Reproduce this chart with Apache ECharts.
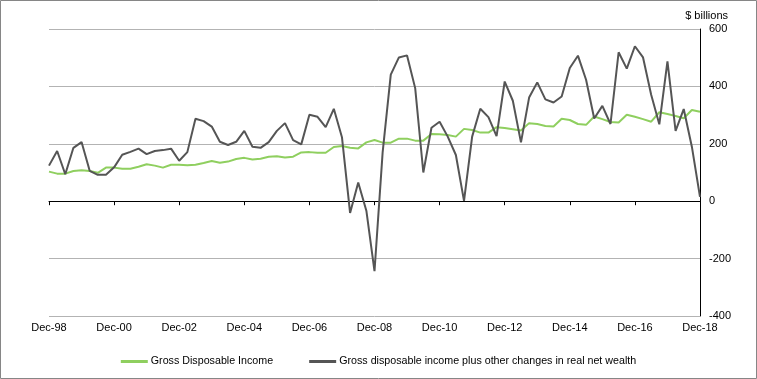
<!DOCTYPE html>
<html>
<head>
<meta charset="utf-8">
<script src="https://cdn.jsdelivr.net/npm/echarts@6/dist/echarts.min.js"></script>
<style>
html,body{margin:0;padding:0;background:#fff;}
#chart{width:757px;height:379px;}
</style>
</head>
<body>
<div id="chart"></div>
<script>
// Quarterly categories Dec-98 .. Dec-18
var months = ['Dec','Mar','Jun','Sep'];
var categories = [];
(function(){
  for (var y = 1998; y <= 2018; y++) {
    for (var q = 0; q < 4; q++) {
      var yr = q === 0 ? y : y + 1;
      if (q > 0 && y === 2018) continue;
      categories.push(months[q] + '-' + String(yr).slice(2));
    }
  }
})();

var yTicks = [-400, -200, 0, 200, 400, 600];

var grossDisposableIncome = [
  103, 96, 96, 105, 108, 105, 99, 117, 117, 113,
  113, 120, 129, 124, 117, 127, 127, 125, 127, 133,
  140, 134, 138, 147, 151, 145, 148, 155, 157, 152,
  155, 170, 171, 169, 169, 189, 192, 186, 184, 205,
  213, 204, 204, 218, 218, 211, 211, 234, 233, 231,
  225, 252, 248, 239, 239, 258, 255, 251, 246, 272,
  269, 262, 260, 287, 283, 269, 266, 295, 286, 276,
  274, 301, 294, 286, 277, 310, 304, 297, 289, 318,
  312
];

var gdiPlusWealth = [
  124, 175, 94, 186, 206, 106, 92, 92, 118, 162,
  172, 183, 164, 175, 178, 183, 141, 171, 287, 279,
  260, 207, 196, 207, 245, 190, 186, 206, 245, 272,
  213, 198, 301, 294, 258, 322, 223, -41, 65, -33,
  -244, 170, 441, 501, 508, 394, 100, 256, 277, 225,
  161, 1, 225, 322, 293, 227, 417, 350, 205, 361,
  414, 355, 344, 365, 464, 507, 423, 288, 332, 269,
  519, 462, 540, 501, 371, 268, 487, 245, 321, 190,
  15
];

var seriesNames = ['Gross Disposable Income', 'Gross disposable income plus other changes in real net wealth'];
var unitLabel = '$ billions';

var font = 'Arial, "Liberation Sans", sans-serif';
var chart = echarts.init(document.getElementById('chart'), null, {renderer: 'canvas'});
function every8(i){ return i % 8 === 0; }

chart.setOption({
  animation: false,
  backgroundColor: '#ffffff',
  textStyle: {fontFamily: font},
  graphic: [
    {type: 'rect', shape: {x: 0.5, y: 0.5, width: 756, height: 378}, style: {fill: 'none', stroke: '#868686', lineWidth: 1}, silent: true},
    {type: 'text', x: 728, y: 16, style: {text: unitLabel, font: '11px ' + font, fill: '#000', textAlign: 'right', textVerticalAlign: 'middle'}}
  ],
  grid: {left: 49, right: 57, top: 29, bottom: 63, containLabel: false},
  legend: {
    bottom: 7, left: 'center',
    icon: 'rect', itemWidth: 27, itemHeight: 3, itemGap: 36,
    textStyle: {fontSize: 10.7, color: '#000', fontFamily: font, padding: [0, 0, 0, -2]},
    data: seriesNames
  },
  xAxis: [
    {
      type: 'category', data: categories, boundaryGap: false, position: 'bottom',
      axisLine: {show: true, onZero: true, lineStyle: {color: '#000', width: 1}},
      axisTick: {show: true, interval: function(i){ return every8(i); }, length: 4, lineStyle: {color: '#000'}},
      axisLabel: {show: false},
      splitLine: {show: false}
    },
    {
      type: 'category', data: categories, boundaryGap: false, position: 'bottom',
      axisLine: {show: false, onZero: false},
      axisTick: {show: false},
      axisLabel: {show: true, interval: function(i){ return every8(i); }, color: '#000', fontSize: 11, margin: 6, fontFamily: font},
      splitLine: {show: false}
    }
  ],
  yAxis: {
    type: 'value', position: 'right', min: yTicks[0], max: yTicks[yTicks.length - 1], interval: 200,
    axisLine: {show: true, lineStyle: {color: '#000', width: 1}},
    axisTick: {show: false},
    axisLabel: {color: '#000', fontSize: 11, margin: 9, fontFamily: font, align: 'left'},
    splitLine: {show: true, lineStyle: {color: '#b3b3b3', width: 1}}
  },
  series: [
    {
      name: seriesNames[0], type: 'line', data: grossDisposableIncome, xAxisIndex: 0,
      showSymbol: false, symbol: 'none', smooth: false,
      lineStyle: {color: '#8fcf5f', width: 2}, itemStyle: {color: '#8fcf5f'}, z: 3
    },
    {
      name: seriesNames[1], type: 'line', data: gdiPlusWealth, xAxisIndex: 0,
      showSymbol: false, symbol: 'none', smooth: false,
      lineStyle: {color: '#555555', width: 2}, itemStyle: {color: '#555555'}, z: 4
    }
  ]
});
</script>
</body>
</html>
